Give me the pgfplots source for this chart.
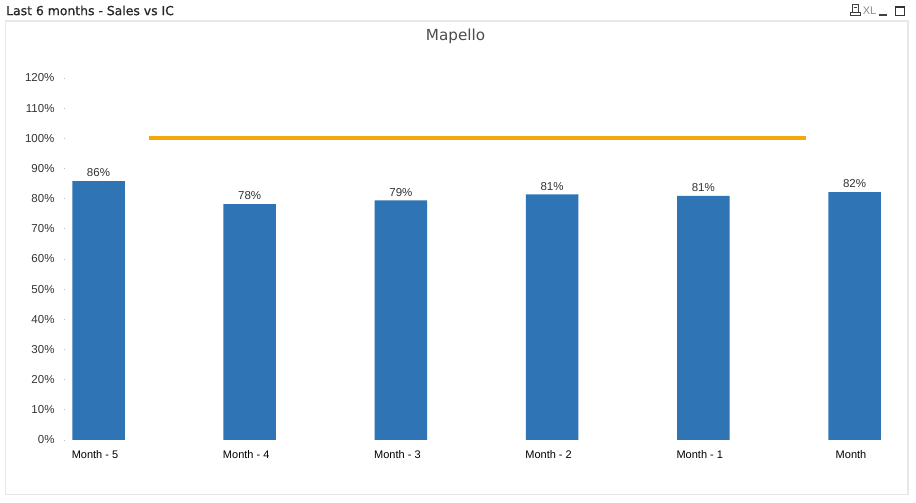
\documentclass[border=0pt]{standalone}
\usepackage{fontspec}
\setmainfont{Liberation Sans}
\newfontfamily\dv{DejaVu Sans}
\usepackage{pgfplots}
\pgfplotsset{compat=1.18}
\definecolor{barblue}{HTML}{2F74B5}
\definecolor{lineor}{HTML}{F5A80A}
\definecolor{frameg}{HTML}{E8E8E8}
\definecolor{ticktxt}{HTML}{333333}
\begin{document}
\begin{tikzpicture}[x=1bp,y=1bp]
\path[use as bounding box,fill=white] (0,0) rectangle (916,503);
% frame
\draw[frameg,line width=1.3bp] (5.5,482) -- (5.5,8.5) -- (908,8.5) -- (908,482) -- cycle;
% caption
\node[anchor=west,inner sep=0pt,text=black!85] at (6,492.5) {\dv\fontsize{12.4bp}{14bp}\selectfont\addfontfeatures{FakeBold=0.6} Last 6 months - Sales vs IC};
% window icons
\draw[black!75,line width=0.8bp] (852,491) rectangle (858.5,499);
\draw[black!75,line width=0.8bp] (850.5,488) rectangle (860.5,491);
\draw[black!75,line width=0.7bp] (853.5,495.5) -- (857,495.5);
\node[inner sep=0pt,text=black!45] at (869.5,492.5) {\fontsize{11bp}{12bp}\selectfont XL};
\fill[black!75] (879,487) rectangle (887,489);
\draw[black!80,line width=0.9bp] (895.5,488) rectangle (904.5,497);
\fill[black!80] (895.5,495) rectangle (904.5,497);
\begin{axis}[
  at={(65bp,63bp)},anchor=south west,
  scale only axis,width=823bp,height=362bp,
  xmin=-0.2216,xmax=5.2216,ymin=0,ymax=120,
  axis line style={draw=none},
  ytick={0,10,...,120},
  ytick pos=left,
  xtick={0,1,2,3,4,5},
  xticklabels={\raisebox{1.5bp}{Month - 5},\raisebox{0.5bp}{Month - 4},\raisebox{2.5bp}{Month - 3},\raisebox{3.5bp}{Month - 2},\raisebox{0.5bp}{Month - 1},\raisebox{3.5bp}{Month}},
  xtick pos=bottom,
  yticklabel={\pgfmathprintnumber{\tick}\%},
  /pgf/number format/assume math mode=true,
  tick label style={font=\fontsize{11.5bp}{13bp}\selectfont},
  yticklabel style={text=ticktxt,xshift=-5.5bp},
  xticklabel style={text=black,xshift=-3.5bp,yshift=-5.5bp,font=\fontsize{11bp}{13bp}\selectfont},
  tick align=outside,
  y tick style={draw=black!25,line width=0.7bp},
  x tick style={draw=none},
  major tick length=1.5bp,
  clip=false,
]
\addplot[ybar,bar width=52.5bp,bar shift=0pt,fill=barblue,draw=none,
  nodes near coords={\pgfmathprintnumber[fixed,precision=0]{\pgfplotspointmeta}\%},
  every node near coord/.append style={font=\fontsize{11.5bp}{13bp}\selectfont,text=ticktxt,inner sep=2bp,yshift=2bp},
  ] coordinates {(0,85.8) (1,78.2) (2,79.4) (3,81.4) (4,80.9) (5,82.2)};
\addplot[lineor,line width=3.8bp,line cap=butt,mark=none,sharp plot] coordinates {(0.334,100) (4.68,100)};
\end{axis}
\node[text=black!70,inner sep=0pt] at (455.5,466.5) {\dv\fontsize{15.2bp}{17bp}\selectfont Mapello};
\end{tikzpicture}
\end{document}
